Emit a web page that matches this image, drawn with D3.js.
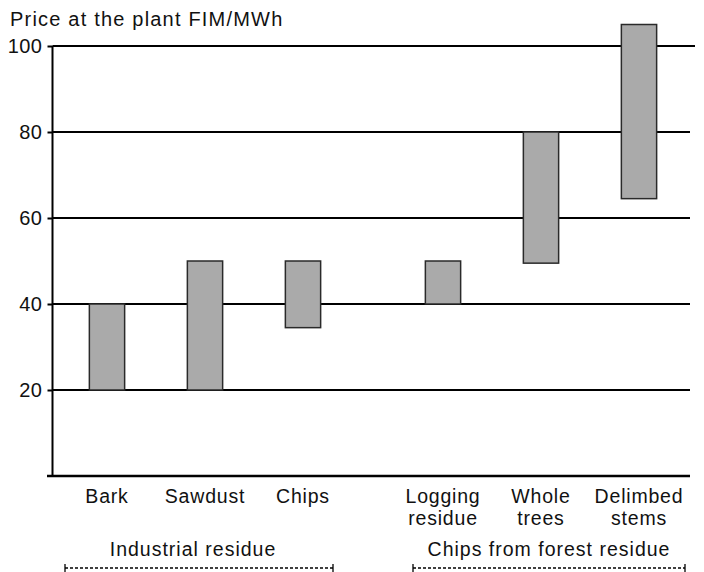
<!DOCTYPE html>
<html>
<head>
<meta charset="utf-8">
<script src="https://cdn.jsdelivr.net/npm/d3@7"></script>
<style>
  html, body { margin: 0; padding: 0; background: #fff; }
  svg { display: block; font-family: "Liberation Sans", Arial, sans-serif; }
</style>
</head>
<body>
<div id="chart"></div>
<script>
// ---- data ----
const groups = ["Industrial residue", "Chips from forest residue"];
const groupOf = ["Industrial residue", "Industrial residue", "Industrial residue",
                 "Chips from forest residue", "Chips from forest residue", "Chips from forest residue"];
const categories = ["Bark", "Sawdust", "Chips", "Logging residue", "Whole trees", "Delimbed stems"];
const categoryLines = [["Bark"], ["Sawdust"], ["Chips"], ["Logging", "residue"], ["Whole", "trees"], ["Delimbed", "stems"]];
const priceLow  = [20, 20, 34.5, 40, 49.5, 64.5];
const priceHigh = [40, 50, 50, 50, 80, 105];
const yTicks = [20, 40, 60, 80, 100];
const yTitle = "Price at the plant FIM/MWh";

// ---- layout ----
const W = 704, H = 572;
const svg = d3.select("#chart").append("svg").attr("width", W).attr("height", H);

const y = d3.scaleLinear().domain([0, 100]).range([476, 46]);
const xGroup = d3.scaleBand().domain(groups).range([58, 688]).paddingInner(0.125).paddingOuter(0);
const xInner = {};
groups.forEach(g => {
  const items = categories.filter((c, i) => groupOf[i] === g);
  xInner[g] = d3.scaleBand().domain(items)
    .range([xGroup(g), xGroup(g) + xGroup.bandwidth()])
    .paddingInner(0.64).paddingOuter(0.32);
});
const xPos = (c, i) => xInner[groupOf[i]](c);
const bw = xInner[groups[0]].bandwidth();

const axisX = 52.5, gridRight = 690;

// gridlines
svg.append("g").selectAll("line").data(yTicks).join("line")
  .attr("x1", axisX).attr("x2", d => d === 100 ? gridRight + 5 : gridRight)
  .attr("y1", d => y(d)).attr("y2", d => y(d))
  .attr("stroke", "#000").attr("stroke-width", 2);

// y axis
const yAxis = d3.axisLeft(y).tickValues(yTicks).tickSize(5).tickPadding(5).tickFormat(d3.format("d"));
const gy = svg.append("g").attr("transform", `translate(${axisX},0)`).call(yAxis);
gy.select(".domain").remove();
gy.selectAll(".tick line").attr("stroke", "#000").attr("stroke-width", 2);
gy.selectAll(".tick text").attr("font-size", 20).attr("fill", "#111")
  .attr("font-family", "Liberation Sans, Arial, sans-serif").attr("letter-spacing", 0.5);
svg.append("line").attr("x1", axisX).attr("x2", axisX).attr("y1", y(100)).attr("y2", y(0) + 1)
  .attr("stroke", "#000").attr("stroke-width", 2);
// x axis baseline
svg.append("line").attr("x1", 47).attr("x2", gridRight).attr("y1", y(0)).attr("y2", y(0))
  .attr("stroke", "#000").attr("stroke-width", 2.5);

// bars
svg.append("g").selectAll("rect").data(categories).join("rect")
  .attr("x", (c, i) => xPos(c, i))
  .attr("width", bw)
  .attr("y", (c, i) => y(priceHigh[i]))
  .attr("height", (c, i) => y(priceLow[i]) - y(priceHigh[i]))
  .attr("fill", "#aaaaaa").attr("stroke", "#2a2a2a").attr("stroke-width", 1.5);

// category labels
const labs = svg.append("g").selectAll("text").data(categories).join("text")
  .attr("x", (c, i) => xPos(c, i) + bw / 2)
  .attr("y", 503)
  .attr("text-anchor", "middle").attr("font-size", 19.5).attr("letter-spacing", 0.8).attr("fill", "#111");
labs.each(function(c, i) {
  d3.select(this).selectAll("tspan").data(categoryLines[i]).join("tspan")
    .attr("x", xPos(c, i) + bw / 2)
    .attr("dy", (t, j) => j === 0 ? 0 : 22)
    .text(t => t);
});

// group brackets
const gsel = svg.append("g").selectAll("g").data(groups).join("g");
const bx0 = g => xGroup(g) + (g === groups[0] ? 7 : 19);
const bx1 = g => xGroup(g) + xGroup.bandwidth() - (g === groups[0] ? 19 : 3);
gsel.append("text")
  .attr("x", g => (bx0(g) + bx1(g)) / 2 - (g === groups[0] ? 6 : 0))
  .attr("y", 556).attr("text-anchor", "middle").attr("font-size", 19.5)
  .attr("letter-spacing", 1).attr("fill", "#111").text(g => g);
gsel.append("line").attr("x1", bx0).attr("x2", bx1).attr("y1", 568).attr("y2", 568)
  .attr("stroke", "#000").attr("stroke-width", 1.3).attr("stroke-dasharray", "3,2");
gsel.append("line").attr("x1", bx0).attr("x2", bx0).attr("y1", 564).attr("y2", 572)
  .attr("stroke", "#000").attr("stroke-width", 1.3);
gsel.append("line").attr("x1", bx1).attr("x2", bx1).attr("y1", 564).attr("y2", 572)
  .attr("stroke", "#000").attr("stroke-width", 1.3);

// y title
svg.append("text").attr("x", 10).attr("y", 26).attr("font-size", 20)
  .attr("letter-spacing", 1.2).attr("fill", "#111").text(yTitle);
</script>
</body>
</html>
